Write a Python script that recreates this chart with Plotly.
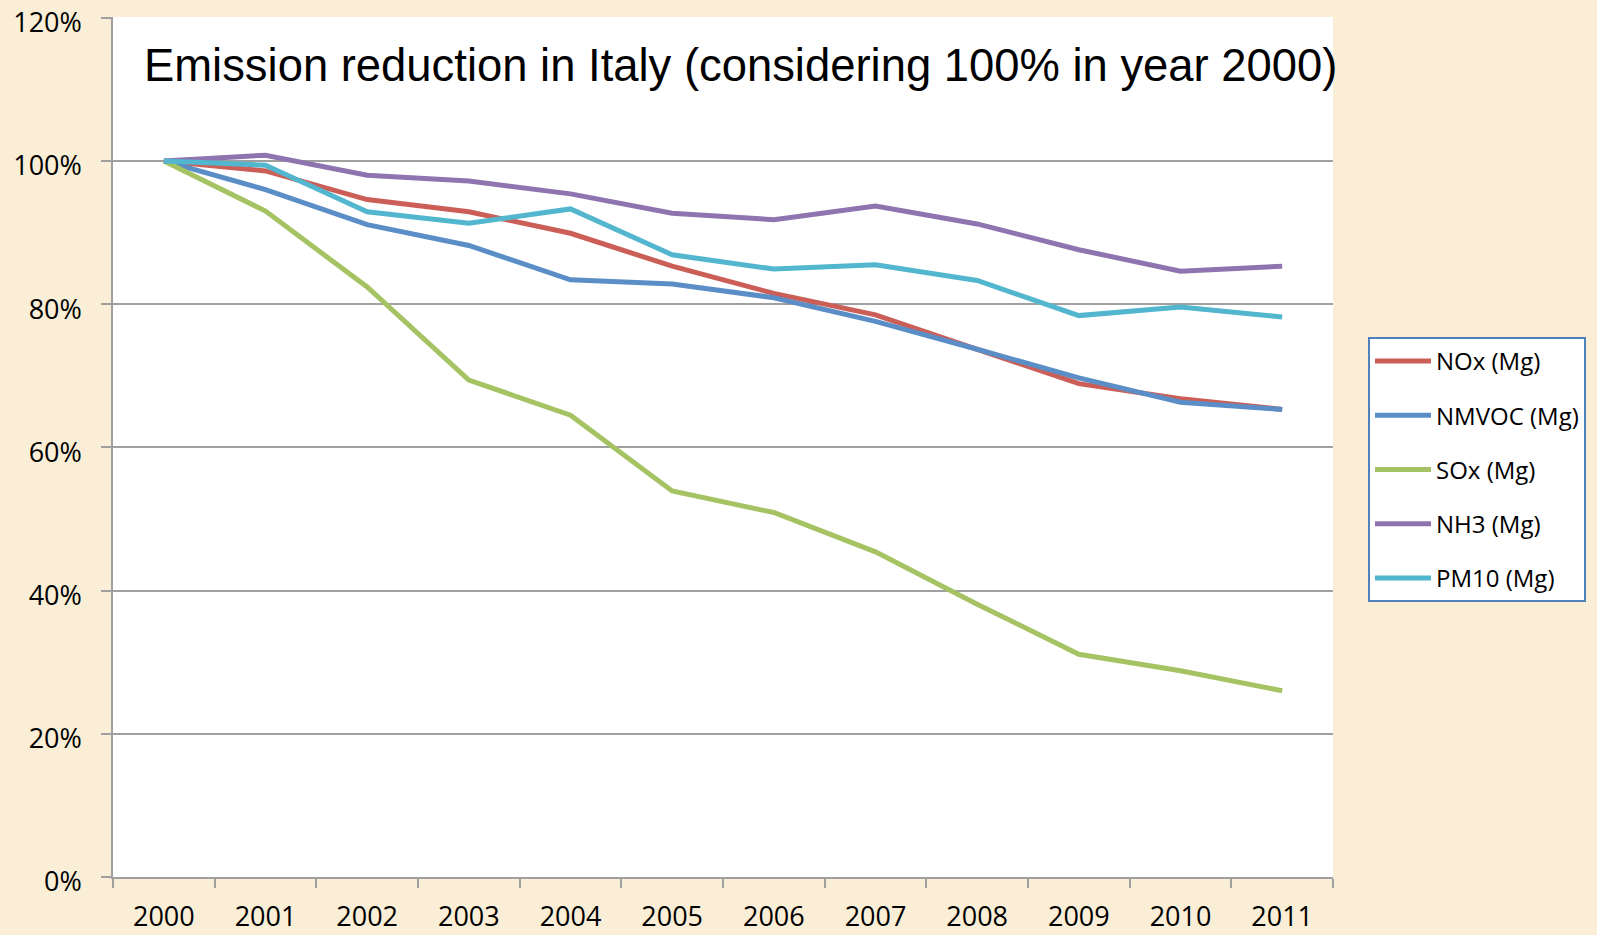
import plotly.graph_objects as go

years = ["2000", "2001", "2002", "2003", "2004", "2005", "2006", "2007", "2008", "2009", "2010", "2011"]

nox = [100, 98.6, 94.6, 92.9, 89.9, 85.3, 81.5, 78.5, 73.7, 68.9, 66.8, 65.3]
nmvoc = [100, 96.0, 91.1, 88.2, 83.4, 82.8, 80.9, 77.6, 73.7, 69.7, 66.3, 65.3]
sox = [100, 93.0, 82.4, 69.4, 64.5, 53.9, 50.9, 45.4, 38.1, 31.1, 28.8, 26.0]
nh3 = [100, 100.8, 98.0, 97.2, 95.4, 92.7, 91.8, 93.7, 91.2, 87.6, 84.6, 85.3]
pm10 = [100, 99.4, 92.9, 91.3, 93.3, 86.9, 84.9, 85.5, 83.3, 78.4, 79.6, 78.2]

series_names = ["NOx (Mg)", "NMVOC (Mg)", "SOx (Mg)", "NH3 (Mg)", "PM10 (Mg)"]
series_values = [nox, nmvoc, sox, nh3, pm10]
colors = ["#CB5F57", "#5B8EC6", "#A6C363", "#8E75B0", "#52B6CE"]

y_ticks = [0, 0.2, 0.4, 0.6, 0.8, 1.0, 1.2]
y_labels = ["0%", "20%", "40%", "60%", "80%", "100%", "120%"]

title_text = "Emission reduction in Italy (considering 100% in year 2000)"

W, H = 1597, 935
ml, mr, mt, mb = 113, 264, 17, 58

fig = go.Figure()
for i, (name, vals, col) in enumerate(zip(series_names, series_values, colors)):
    fig.add_trace(go.Scatter(
        x=years, y=[v / 100 for v in vals], name=name, mode="lines",
        line=dict(color=col, width=5), legendgroup=f"g{i}",
    ))

grid = "#A0A0A0"
fig.update_layout(
    width=W, height=H,
    margin=dict(l=ml, r=mr, t=mt, b=mb, autoexpand=False),
    paper_bgcolor="#FBEED6",
    plot_bgcolor="#FFFFFF",
    font=dict(family="Open Sans", color="#000000"),
    showlegend=True,
    legend=dict(
        x=(1368 - ml) / (W - ml - mr), xanchor="left",
        y=(H - mb - 337) / (H - mt - mb), yanchor="top",
        bgcolor="#FFFFFF", bordercolor="#4F81BD", borderwidth=2,
        font=dict(family="Open Sans", size=24, color="#000000"),
        tracegroupgap=20, itemwidth=56,
    ),
    xaxis=dict(
        type="category", tickson="boundaries", range=[-0.5, 11.5],
        showline=True, linecolor=grid, linewidth=1.5,
        ticks="outside", ticklen=9, tickcolor=grid, tickwidth=1.5,
        showgrid=False, zeroline=False, automargin=False,
        ticklabeloverflow="allow",
        tickfont=dict(family="Open Sans", size=27, color="#000000"),
        ticklabelstandoff=15,
    ),
    yaxis=dict(
        range=[0, 1.201], tickmode="array", tickvals=y_ticks, ticktext=y_labels,
        showline=True, linecolor=grid, linewidth=1.5,
        ticks="outside", ticklen=10, tickcolor=grid, tickwidth=1.5,
        showgrid=True, gridcolor=grid, gridwidth=1.5, zeroline=False,
        automargin=False, ticklabeloverflow="allow",
        tickfont=dict(family="Open Sans", size=27, color="#000000"),
        ticklabelstandoff=14, ticklabelshift=5,
    ),
    annotations=[dict(
        text=title_text, xref="paper", yref="paper",
        x=(142 - ml) / (W - ml - mr), xanchor="left",
        y=(H - mb - 66) / (H - mt - mb), yanchor="middle",
        showarrow=False,
        font=dict(family="Liberation Sans", size=45.4, color="#000000"),
    )],
)

fig.write_html(
    "out.html",
    config={"displayModeBar": False},
    post_script="document.body.style.margin='0';document.body.style.background='#FBEED6';",
)
